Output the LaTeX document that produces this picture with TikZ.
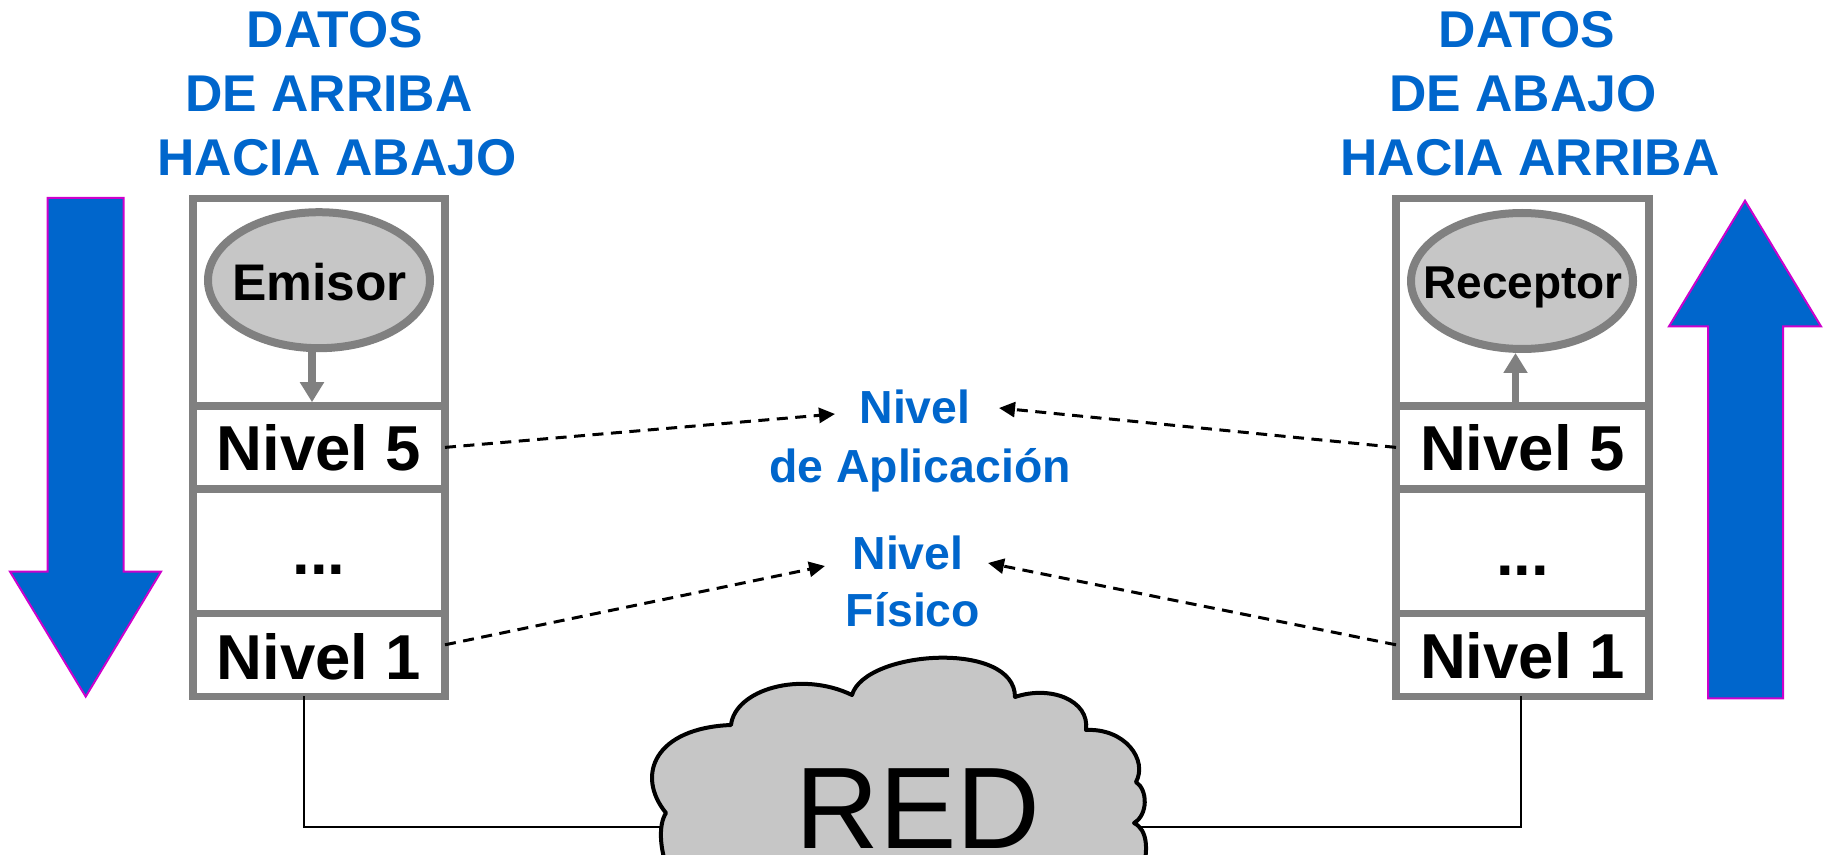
\documentclass[tikz,border=0pt]{standalone}
\usepackage{fontspec}
\setmainfont{Liberation Sans}
\usetikzlibrary{arrows.meta,shapes.geometric}
\definecolor{myblue}{RGB}{0,102,204}
\definecolor{mymag}{RGB}{204,0,204}
\definecolor{boxgray}{RGB}{128,128,128}
\definecolor{fillgray}{RGB}{198,198,198}
\begin{document}
\begin{tikzpicture}[x=0.5pt,y=-0.5pt,
  row/.style={draw=boxgray, line width=3.7pt, fill=white, inner sep=0pt, outer sep=0pt},
  lvl/.style={anchor=base, inner sep=0pt, font=\bfseries\fontsize{31.75}{36}\selectfont},
  ttl/.style={anchor=base, inner sep=0pt, text=myblue, font=\bfseries\fontsize{25.85}{30}\selectfont},
  mid/.style={anchor=base, inner sep=0pt, text=myblue, font=\bfseries\fontsize{23.2}{28}\selectfont},
  proc/.style={ellipse, draw=boxgray, line width=4pt, fill=fillgray, minimum width=111pt, minimum height=68pt, inner sep=0pt, outer sep=0pt},
  garrow/.style={draw=boxgray, line width=3.8pt, -{Triangle[length=10pt,width=11.5pt]}},
  dash arrow/.style={line width=1.5pt, dash pattern=on 5.5pt off 3.75pt, -{Triangle[length=8pt,width=7.5pt]}},
  bigarrow/.style={fill=myblue, draw=mymag, line width=1pt},
  wire/.style={line width=1pt}]

\clip (0,0) rectangle (1831,855);
\useasboundingbox (0,0) rectangle (1831,855);

% titles
\node[ttl] (tl1) at (335,47.5) {DATOS};
\node[ttl] (tl2) at (329,111.5) {DE ARRIBA};
\node[ttl] (tl3) at (337,175.5) {HACIA ABAJO};
\node[ttl] (tr1) at (1527,47.5) {DATOS};
\node[ttl] (tr2) at (1523,111.5) {DE ABAJO};
\node[ttl] (tr3) at (1530,175.5) {HACIA ARRIBA};

% big arrows
\draw[bigarrow] (47.7,197.9) -- (123.7,197.9) -- (123.7,571.6) -- (161,571.6) -- (85.7,696.6) -- (10,571.6) -- (47.7,571.6) -- cycle;
\draw[bigarrow] (1708,698.3) -- (1783,698.3) -- (1783,326.4) -- (1821,326.4) -- (1745,200.7) -- (1669,326.4) -- (1708,326.4) -- cycle;

% wires to network
\coordinate (cloudL) at (664,827);
\coordinate (cloudR) at (1138,827);

% left stack
\node[row, minimum width=126pt, minimum height=103.8pt] (topL) at (319,302.2) {};
\node[row, minimum width=126pt, minimum height=41.4pt] (n5L) at (319,447.4) {};
\node[row, minimum width=126pt, minimum height=62.3pt] (dotsL) at (319,551.1) {};
\node[row, minimum width=126pt, minimum height=41.4pt] (n1L) at (319,654.8) {};
% right stack
\node[row, minimum width=126.5pt, minimum height=103.8pt] (topR) at (1522.5,302.2) {};
\node[row, minimum width=126.5pt, minimum height=41.4pt] (n5R) at (1522.5,447.4) {};
\node[row, minimum width=126.5pt, minimum height=62.3pt] (dotsR) at (1522.5,551.1) {};
\node[row, minimum width=126.5pt, minimum height=41.4pt] (n1R) at (1522.5,654.8) {};

\draw[wire] (n1L.south) ++(-15,0) |- (cloudL);
\draw[wire] (n1R.south) ++(-1.5,0) |- (cloudR);

% ellipses
\node[proc] (emL) at (319,280.2) {};
\node[proc] (reR) at (1522,281) {};
\node[anchor=base, inner sep=0pt, font=\bfseries\fontsize{25.75}{30}\selectfont] (emT) at (319.5,300.5) {Emisor};
\node[anchor=base, inner sep=0pt, font=\bfseries\fontsize{23}{28}\selectfont] (reT) at (1523,298.8) {Receptor};

\draw[garrow] (emL.south) ++(-7,0) -- ++(0,54);
\draw[garrow] (n5R.north) ++(-7,0) -- ++(0,-53);

% level texts
\node[lvl] (t5L) at (319,471) {Nivel 5};
\node[lvl] (tdL) at (319,574.3) {...};
\node[lvl] (t1L) at (319,679.4) {Nivel 1};
\node[lvl] (t5R) at (1522.5,471) {Nivel 5};
\node[lvl] (tdR) at (1522.5,575) {...};
\node[lvl] (t1R) at (1522.5,678.7) {Nivel 1};

% middle labels
\node[mid] (app1) at (915,423) {Nivel};
\node[mid] (app2) at (920,482) {de Aplicación};
\node[mid] (fis1) at (908,569) {Nivel};
\node[mid] (fis2) at (913,626) {Físico};

\coordinate (appTipL) at (835,414);
\coordinate (appTipR) at (999,408);
\coordinate (fisTipL) at (825,566);
\coordinate (fisTipR) at (988,563);

\draw[dash arrow] (n5L.east) -- (appTipL);
\draw[dash arrow] (n5R.west) -- (appTipR);
\draw[dash arrow] (n1L.east) ++(0,-10) -- (fisTipL);
\draw[dash arrow] (n1R.west) ++(0,-10) -- (fisTipR);

% cloud
\draw[fill=fillgray, line width=2pt, line join=round]
  (668,870) .. controls (660,850) and (658,825) .. (666,813)
  .. controls (635,775) and (655,728) .. (731,725)
  .. controls (735,690) and (800,670) .. (852,695)
  .. controls (865,650) and (1015,640) .. (1015,697)
  .. controls (1050,685) and (1090,700) .. (1086,730)
  .. controls (1125,728) and (1148,760) .. (1136,782)
  .. controls (1148,790) and (1148,815) .. (1134,823)
  .. controls (1148,830) and (1148,850) .. (1143,870) -- cycle;
\node[anchor=base, inner sep=0pt, font=\fontsize{58}{62}\selectfont] (red) at (918,848) {RED};
\end{tikzpicture}
\end{document}
